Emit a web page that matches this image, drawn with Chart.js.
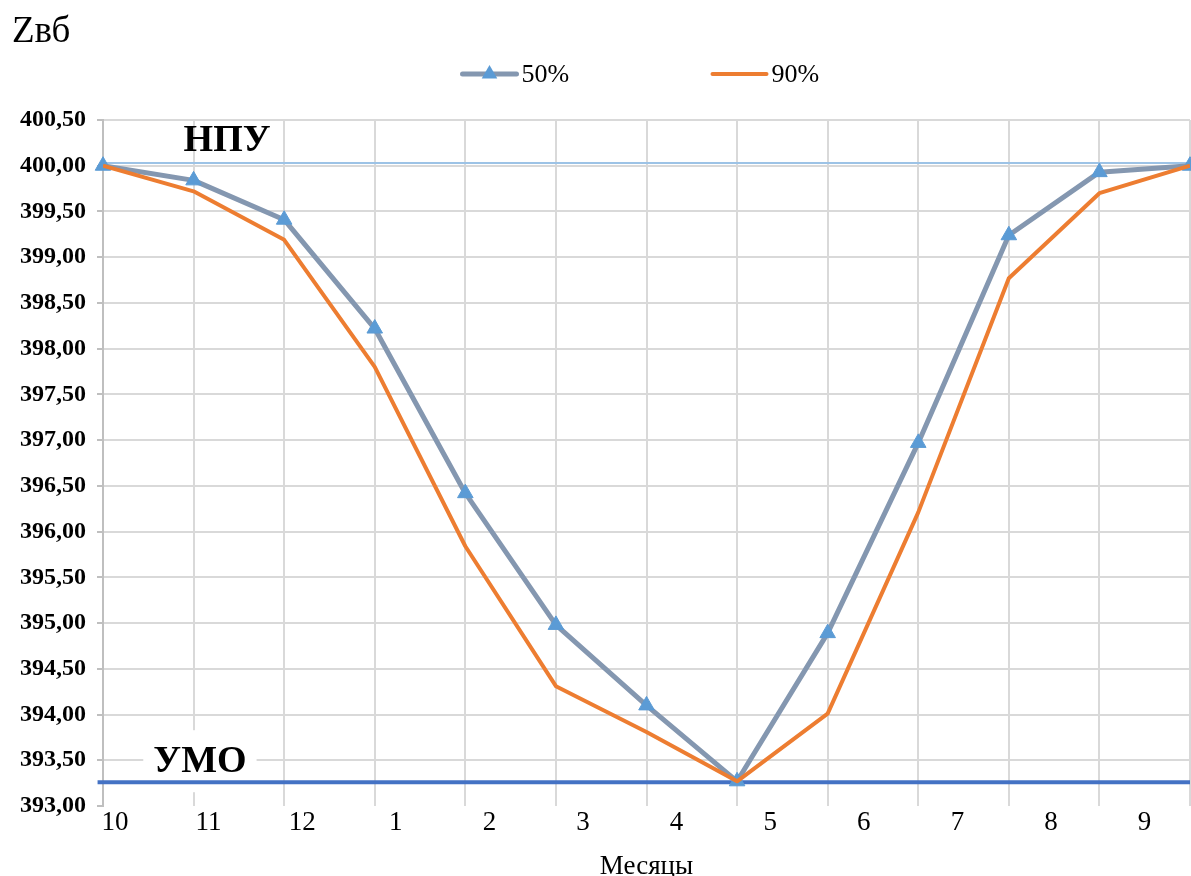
<!DOCTYPE html>
<html>
<head>
<meta charset="utf-8">
<script src="https://cdn.jsdelivr.net/npm/chart.js@4"></script>
<style>
    html, body { margin: 0; padding: 0; background: #fff; }
    #wrap { width: 1191px; height: 876px; }
</style>
</head>
<body>
<div id="wrap"><canvas id="levelChart"></canvas></div>
<script>
// Data
const monthLabels = ['10', '11', '12', '1', '2', '3', '4', '5', '6', '7', '8', '9'];
const stepIndex = [0, 1, 2, 3, 4, 5, 6, 7, 8, 9, 10, 11, 12];
const level50 = [400.00, 399.84, 399.41, 398.22, 396.42, 394.98, 394.10, 393.27, 394.89, 396.97, 399.24, 399.93, 400.00];
const level90 = [400.00, 399.72, 399.19, 397.80, 395.84, 394.31, 393.81, 393.27, 394.01, 396.21, 398.77, 399.70, 400.00];
const npuLevel = 400.03;
const umoLevel = 393.26;
const seriesNames = ['50%', '90%'];
const levelNames = ['НПУ', 'УМО'];
const yTitle = 'Zвб';
const xTitle = 'Месяцы';

const FONT = '"Liberation Serif", "Times New Roman", serif';

function toPoints(values) {
    return stepIndex.map((v, i) => ({ x: v, y: values[i] }));
}

// Title, level captions and the legend are painted here
const annotate = {
    id: 'annotate',
    beforeDatasetsDraw(chart) {
        const { ctx, scales } = chart;
        const x = scales.x, y = scales.y;
        ctx.save();
        ctx.font = 'bold 38px ' + FONT;
        ctx.textAlign = 'center';
        ctx.textBaseline = 'middle';
        // УМО sits on a white box
        const ux = x.getPixelForValue(1.07);
        const uy = y.getPixelForValue(umoLevel) - 22;
        const w = ctx.measureText(levelNames[1]).width;
        ctx.fillStyle = '#fff';
        ctx.fillRect(ux - w / 2 - 10, uy - 30, w + 20, 62);
        ctx.fillStyle = '#000';
        ctx.fillText(levelNames[1], ux, uy + 2);
        ctx.fillText(levelNames[0], x.getPixelForValue(1.37), y.getPixelForValue(npuLevel) - 22);
        ctx.restore();
    },
    afterDraw(chart) {
        const { ctx } = chart;
        ctx.save();
        ctx.font = '37px ' + FONT;
        ctx.fillStyle = '#000';
        ctx.textAlign = 'left';
        ctx.textBaseline = 'alphabetic';
        ctx.fillText(yTitle, 12, 42);

        // legend
        const starts = [chart.width / 2 - 133, chart.width / 2 + 117];
        const ly = 74;
        ctx.font = '26px ' + FONT;
        ctx.textBaseline = 'middle';
        seriesNames.forEach((name, i) => {
            const ds = chart.data.datasets[i];
            const sx = starts[i];
            ctx.strokeStyle = ds.borderColor;
            ctx.lineWidth = ds.borderWidth;
            ctx.lineCap = 'round';
            ctx.beginPath();
            ctx.moveTo(sx, ly);
            ctx.lineTo(sx + 54, ly);
            ctx.stroke();
            if (ds.pointRadius > 0) {
                const r = ds.pointRadius;
                const cx = sx + 27;
                ctx.fillStyle = ds.pointBackgroundColor;
                ctx.beginPath();
                ctx.moveTo(cx, ly - r);
                ctx.lineTo(cx + r * 0.866, ly + r / 2);
                ctx.lineTo(cx - r * 0.866, ly + r / 2);
                ctx.closePath();
                ctx.fill();
            }
            ctx.fillStyle = '#000';
            ctx.fillText(name, sx + 59, ly + 1);
        });
        ctx.restore();
    }
};

new Chart(document.getElementById('levelChart'), {
    type: 'line',
    data: {
        datasets: [
            {
                label: seriesNames[0],
                data: toPoints(level50),
                borderColor: '#8497b0',
                borderWidth: 5,
                borderJoinStyle: 'round',
                pointStyle: 'triangle',
                pointRadius: 9,
                pointBackgroundColor: '#5b9bd5',
                pointBorderColor: '#5b9bd5',
                pointBorderWidth: 1,
                clip: false,
                order: 2
            },
            {
                label: seriesNames[1],
                data: toPoints(level90),
                borderColor: '#ed7d31',
                borderWidth: 4,
                borderJoinStyle: 'round',
                pointRadius: 0,
                order: 1
            },
            {
                label: levelNames[0],
                data: [{ x: 0, y: npuLevel }, { x: 12, y: npuLevel }],
                borderColor: '#9dc3e6',
                borderWidth: 2,
                pointRadius: 0,
                order: 3
            },
            {
                label: levelNames[1],
                data: [{ x: -0.06, y: umoLevel }, { x: 12, y: umoLevel }],
                borderColor: '#4472c4',
                borderWidth: 4,
                pointRadius: 0,
                clip: false,
                order: 3
            }
        ]
    },
    options: {
        responsive: true,
        maintainAspectRatio: false,
        animation: false,
        layout: { autoPadding: false, padding: { top: 120, right: 1, bottom: 0, left: 0 } },
        plugins: {
            legend: { display: false },
            tooltip: { enabled: false }
        },
        scales: {
            x: {
                type: 'linear',
                min: 0,
                max: 12,
                ticks: { display: false, stepSize: 1 },
                grid: { color: '#d9d9d9', lineWidth: 2, drawTicks: false },
                border: { display: false },
                afterFit(s) { s.height = 0; }
            },
            months: {
                type: 'linear',
                axis: 'x',
                position: 'bottom',
                min: -0.128,
                max: 11.485,
                afterBuildTicks(s) { s.ticks = monthLabels.map((_, i) => ({ value: i })); },
                ticks: {
                    callback: (v) => monthLabels[v],
                    font: { family: FONT, size: 27 },
                    color: '#000',
                    padding: 1,
                    maxRotation: 0,
                    autoSkip: false
                },
                grid: { display: false, drawTicks: false },
                border: { display: false },
                title: {
                    display: true,
                    text: xTitle,
                    color: '#000',
                    font: { family: FONT, size: 27, lineHeight: 0.7 },
                    padding: { top: 0, bottom: 0 }
                },
                afterFit(s) { s.height = 70; }
            },
            y: {
                min: 393,
                max: 400.5,
                ticks: {
                    stepSize: 0.5,
                    callback: (v) => v.toFixed(2).replace('.', ','),
                    font: { family: FONT, size: 24, weight: 'bold' },
                    color: '#000',
                    padding: 11
                },
                grid: {
                    color: (c) => (c.tick && c.tick.value === 393) ? 'rgba(0,0,0,0)' : '#d9d9d9',
                    lineWidth: 2,
                    tickLength: 6,
                    tickColor: '#bfbfbf'
                },
                border: { color: '#bfbfbf', width: 2 },
                afterFit(s) { s.width = 103; }
            }
        }
    },
    plugins: [annotate]
});
</script>
</body>
</html>
